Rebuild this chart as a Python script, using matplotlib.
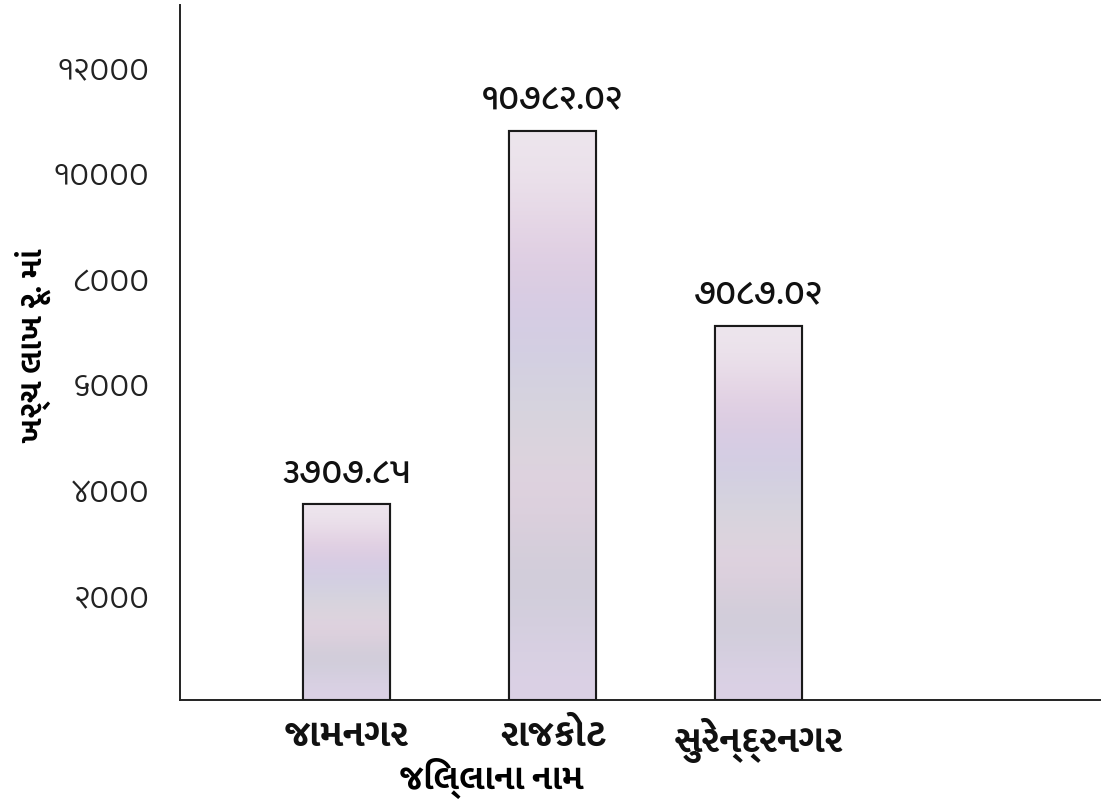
import matplotlib
matplotlib.use("Agg")
import matplotlib.pyplot as plt
import numpy as np

# ---- data ----
districts = ["જામનગર", "રાજકોટ", "સુરેન્દ્રનગર"]
values = [3707.85, 10782.02, 7087.02]
value_labels = ["૩૭૦૭.૮૫", "૧૦૭૮૨.૦૨", "૭૦૮૭.૦૨"]
ytick_values = [2000, 4000, 6000, 8000, 10000, 12000]
ytick_labels = ["૨૦૦૦", "૪૦૦૦", "૬૦૦૦", "૮૦૦૦", "૧૦૦૦૦", "૧૨૦૦૦"]
y_title = "ખર્ચ લાખ રૂ. માં"
x_title = "જિલ્લાના નામ"

plt.rcParams["font.family"] = ["Mukta Vaani", "DejaVu Sans"]

fig = plt.figure(figsize=(11.09, 7.99), dpi=100)
ax = fig.add_axes([180 / 1109, 99 / 799, 920 / 1109, 695 / 799])

x = np.arange(len(districts))
bars = ax.bar(x, values, width=0.42, facecolor="#ddd0dc", edgecolor="#1a1a1a",
              linewidth=1.5, zorder=3)

# soft iridescent texture clipped to each bar
grad_colors = np.array([
    [0.93, 0.90, 0.93],
    [0.88, 0.80, 0.88],
    [0.82, 0.80, 0.90],
    [0.84, 0.84, 0.86],
    [0.89, 0.82, 0.88],
    [0.80, 0.80, 0.84],
    [0.86, 0.82, 0.90],
])
tex = np.repeat(grad_colors[:, None, :], 4, axis=1)
for b in bars:
    bx, by, bw, bh = b.get_x(), b.get_y(), b.get_width(), b.get_height()
    im = ax.imshow(tex, extent=(bx, bx + bw, by, by + bh), aspect="auto",
                   interpolation="bicubic", zorder=3.5)
    im.set_clip_path(b)
ax.bar(x, values, width=0.42, facecolor="none", edgecolor="#1a1a1a",
       linewidth=1.5, zorder=4)

for xi, v, lab in zip(x, values, value_labels):
    ax.annotate(lab, (xi, v), xytext=(0, 10), textcoords="offset points",
                ha="center", va="bottom", fontsize=26, fontweight=500,
                color="#111111")

ax.set_xlim(-0.81, 3.66)
ax.set_ylim(0, 13175)
ax.set_yticks(ytick_values)
ax.set_yticklabels(ytick_labels, fontsize=25, fontweight=300, color="#222222")
ax.set_xticks(x)
ax.set_xticklabels(districts, fontsize=27, fontweight="bold", color="#111111")
ax.tick_params(axis="y", length=0, pad=22)
ax.tick_params(axis="x", length=0, pad=13)

for s in ["top", "right"]:
    ax.spines[s].set_visible(False)
for s in ["left", "bottom"]:
    ax.spines[s].set_linewidth(1.4)
    ax.spines[s].set_color("#222222")

ax.set_ylabel(y_title, fontsize=23, fontweight="bold")
ax.yaxis.set_label_coords(-0.14, 0.51)
ax.set_xlabel(x_title, fontsize=25, fontweight="bold")
ax.xaxis.set_label_coords(0.339, -0.084)

fig.savefig("out.png", dpi=100)
